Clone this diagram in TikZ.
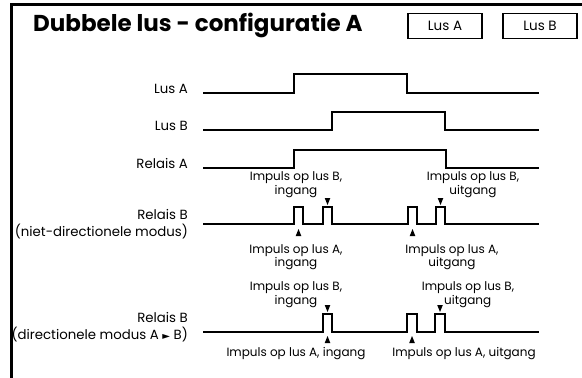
\documentclass[tikz,border=0pt]{standalone}
\usepackage{fontspec}
\setmainfont{Poppins}
\newfontfamily\symfont{DejaVu Sans}
\begin{document}
\begin{tikzpicture}[x=1pt,y=-1pt,
  frame/.style={line width=2.8pt},
  signal/.style={line width=2pt},
  legendbox/.style={draw,line width=1.1pt,minimum width=74pt,minimum height=25pt,inner sep=0pt,font=\fontsize{13.5}{15}\selectfont},
  sidelabel/.style={inner sep=0pt,align=right,font=\fontsize{13.3}{17.5}\selectfont},
  note/.style={inner sep=0pt,align=center,font=\fontsize{12}{13.5}\selectfont},
  uptip/.pic={\fill (0,0) -- (2.8,7) -- (-2.8,7) -- cycle;},
  downtip/.pic={\fill (0,0) -- (2.8,-7) -- (-2.8,-7) -- cycle;}]
\useasboundingbox (0,0) rectangle (582,378);

% outer frame (top and left edges)
\draw[frame] (11.5,378) -- (11.5,4.5) -- (582,4.5);

% title and legend
\node[anchor=base west,inner sep=0pt,font=\fontsize{23}{26}\bfseries\selectfont] (title) at (33,31.5) {Dubbele lus - configuratie A};
\node[legendbox] (legA) at (445,26) {Lus A};
\node[legendbox] (legB) at (540,26) {Lus B};

% side labels
\node[sidelabel,anchor=base east] (lA) at (188,93) {Lus A};
\node[sidelabel,anchor=base east] (lB) at (188,130) {Lus B};
\node[sidelabel,anchor=base east] (rA) at (188,168) {Relais A};
\node[sidelabel,anchor=east] (rB) at (188,224) {Relais B\\(niet-directionele modus)};
\node[sidelabel,anchor=east] (rBd) at (188,327) {Relais B\\(directionele modus A {\symfont\fontsize{10}{10}\selectfont►} B)};

% waveforms
\draw[signal] (203,93) -| (294,74) -| (407,93) -- (539,93);
\draw[signal] (203,129.5) -| (332,112) -| (445,129.5) -- (539,129.5);
\draw[signal] (203,168) -| (294,150) -| (446,168) -- (539,168);
\draw[signal] (203,224) -| (294,207) -| (303,224) -| (323,207) -| (332,224)
  -| (408,207) -| (417,224) -| (436,207) -| (445,224) -- (539,224);
\draw[signal] (203,332) -| (323,314) -| (332,332)
  -| (407,314) -| (417,332) -| (435,314) -| (445,332) -- (539,332);

% pulse markers, non-directional mode
\pic at (298.5,229) {uptip};
\pic at (412.5,229) {uptip};
\pic at (327.5,205) {downtip};
\pic at (440.5,205) {downtip};

% pulse markers, directional mode
\pic at (327.5,336) {uptip};
\pic at (412,336) {uptip};
\pic at (327.5,312) {downtip};
\pic at (440,312) {downtip};

% pulse notes, non-directional mode
\node[note] (nBin) at (296,184.5) {Impuls op lus B,\\ingang};
\node[note] (nBout) at (473,184.5) {Impuls op lus B,\\uitgang};
\node[note] (nAin) at (296,257) {Impuls op lus A,\\ingang};
\node[note] (nAout) at (452,257) {Impuls op lus A,\\uitgang};

% pulse notes, directional mode
\node[note] (dBin) at (296,294.5) {Impuls op lus B,\\ingang};
\node[note] (dBout) at (468,288) {Impuls op lus B,};
\node[note,anchor=west] (dBout2) at (444,301.5) {uitgang};
\node[note] (dAin) at (296,354) {Impuls op lus A, ingang};
\node[note] (dAout) at (464,354) {Impuls op lus A, uitgang};
\end{tikzpicture}
\end{document}
